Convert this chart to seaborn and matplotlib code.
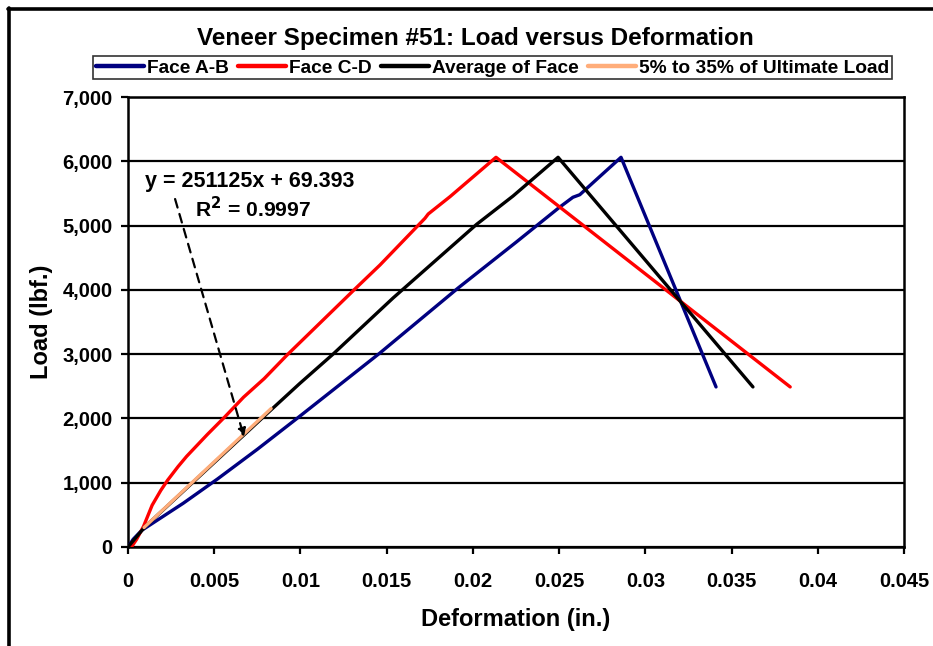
import matplotlib
matplotlib.use("Agg")
import matplotlib.pyplot as plt
from matplotlib.lines import Line2D
from matplotlib.ticker import FuncFormatter
import pandas as pd
import seaborn as sns

# ---- data -------------------------------------------------------------
face_ab_x = [0.0, 0.0003, 0.0008, 0.002, 0.0032, 0.0042, 0.0052, 0.0075, 0.0098,
             0.01461, 0.01914, 0.0225, 0.0250, 0.0258, 0.0262, 0.0271, 0.02859, 0.0341]
face_ab_y = [0, 120, 260, 470, 680, 870, 1060, 1520, 2000,
             3018, 4028, 4740, 5280, 5440, 5480, 5700, 6062, 2490]

face_cd_x = [0.0002, 0.0005, 0.0009, 0.0014, 0.0019, 0.0023, 0.0029, 0.0034,
             0.0040, 0.0046, 0.0056, 0.0067, 0.0079, 0.0092, 0.01316, 0.01461,
             0.01703, 0.01722, 0.01741, 0.01867, 0.02134, 0.0384]
face_cd_y = [0, 120, 320, 650, 880, 1040, 1250, 1410,
             1580, 1750, 2020, 2330, 2620, 2980, 4013, 4386,
             5060, 5113, 5180, 5449, 6062, 2490]

average_x = [0.0, 0.0005, 0.00099, 0.00833, 0.00997, 0.01189, 0.01537, 0.02022,
             0.02233, 0.02494, 0.03624]
average_y = [0, 160, 316, 2142, 2546, 3000, 3873, 5020,
             5460, 6062, 2490]

range_x = [0.00093, 0.0083]
range_y = [303, 2154]

fit_slope = 251125
fit_intercept = 69.393
fit_r2 = 0.9997

series_names = ["Face A-B", "Face C-D", "Average of Face", "5% to 35% of Ultimate Load"]
series_colors = ["#000080", "#FF0000", "#000000", "#FFAD7A"]

x_ticks = [0, 0.005, 0.01, 0.015, 0.02, 0.025, 0.03, 0.035, 0.04, 0.045]
x_tick_labels = ["0", "0.005", "0.01", "0.015", "0.02", "0.025", "0.03", "0.035", "0.04", "0.045"]
y_ticks = [0, 1000, 2000, 3000, 4000, 5000, 6000, 7000]

# ---- long-form table ---------------------------------------------------
frames = []
for name, xs, ys in zip(series_names,
                        [face_ab_x, face_cd_x, average_x, range_x],
                        [face_ab_y, face_cd_y, average_y, range_y]):
    frames.append(pd.DataFrame({"Deformation": xs, "Load": ys, "Series": name}))
df = pd.concat(frames, ignore_index=True)

# ---- figure -----------------------------------------------------------
sns.set_theme(style="white")
plt.rcParams["font.family"] = ["Liberation Sans", "DejaVu Sans"]
plt.rcParams["font.weight"] = "bold"
plt.rcParams["text.color"] = "black"
plt.rcParams["axes.labelcolor"] = "black"
plt.rcParams["xtick.color"] = "black"
plt.rcParams["ytick.color"] = "black"

fig = plt.figure(figsize=(9.33, 6.46), dpi=100)
ax = fig.add_axes([128 / 933, 1 - 547 / 646, (904 - 128) / 933, (547 - 97) / 646])

for name, color in zip(series_names, series_colors):
    sub = df[df["Series"] == name]
    sns.lineplot(data=sub, x="Deformation", y="Load", ax=ax, color=color,
                 lw=2.4, sort=False, estimator=None, legend=False,
                 solid_capstyle="round", solid_joinstyle="round", zorder=3)

ax.set_xlim(0, 0.045)
ax.set_ylim(0, 7000)
ax.set_xticks(x_ticks)
ax.set_xticklabels(x_tick_labels)
ax.set_yticks(y_ticks)
ax.yaxis.set_major_formatter(FuncFormatter(lambda v, p: f"{int(v):,}"))

ax.grid(axis="y", color="black", lw=1.6)
ax.grid(axis="x", visible=False)
ax.set_axisbelow(True)
for s in ax.spines.values():
    s.set_visible(True)
    s.set_color("black")
    s.set_linewidth(1.8)

ax.tick_params(axis="both", direction="out", length=5, width=1.6, color="black",
               labelsize=14.5, labelcolor="black", bottom=True, left=True)
ax.tick_params(axis="x", pad=13)
ax.tick_params(axis="y", pad=6)
for lab in ax.get_xticklabels() + ax.get_yticklabels():
    lab.set_fontweight("bold")

ax.set_xlabel("Deformation (in.)", fontsize=17, fontweight="bold", labelpad=12.5)
ax.set_ylabel("Load (lbf.)", fontsize=17, fontweight="bold", labelpad=7)

fig.text(0.509, 0.941, "Veneer Specimen #51: Load versus Deformation",
         ha="center", va="center", fontsize=17.5, fontweight="bold")

# regression annotation
ax.text(0.00099, (547 - 181) / 450 * 7000, f"y = {fit_slope}x + {fit_intercept}",
        fontsize=15.5, fontweight="bold", va="center", ha="left")
ax.text(0.00390, (547 - 209) / 450 * 7000, f"R$^{{\\mathbf{{2}}}}$ = {fit_r2}",
        fontsize=15.2, fontweight="bold", va="center", ha="left")
ax.annotate("", xy=(0.00673, 1711), xytext=(0.00273, 5413),
            arrowprops=dict(arrowstyle="-|>", linestyle=(0, (4, 3)), lw=1.6,
                            color="black", mutation_scale=12, shrinkA=0, shrinkB=0),
            zorder=4)

# legend
handles = [Line2D([0], [0], color=c, lw=3.2) for c in series_colors]
leg = fig.legend(handles, series_names, loc="center", bbox_to_anchor=(0.528, 0.895),
                 ncol=4, frameon=True, fancybox=False,
                 handlelength=2.5, handletextpad=0.15, columnspacing=0.5,
                 borderpad=0.15, borderaxespad=0, prop={"weight": "bold", "size": 13.8})
leg.get_frame().set_edgecolor("black")
leg.get_frame().set_linewidth(1.2)

# outer frame lines (left and top)
fig.add_artist(Line2D([9 / 933, 9 / 933], [0, 1 - 8 / 646], color="black", lw=2.6,
                      transform=fig.transFigure))
fig.add_artist(Line2D([8 / 933, 1], [1 - 9 / 646, 1 - 9 / 646], color="black", lw=2.6,
                      transform=fig.transFigure))

fig.savefig("out.png", dpi=100, facecolor="white")
